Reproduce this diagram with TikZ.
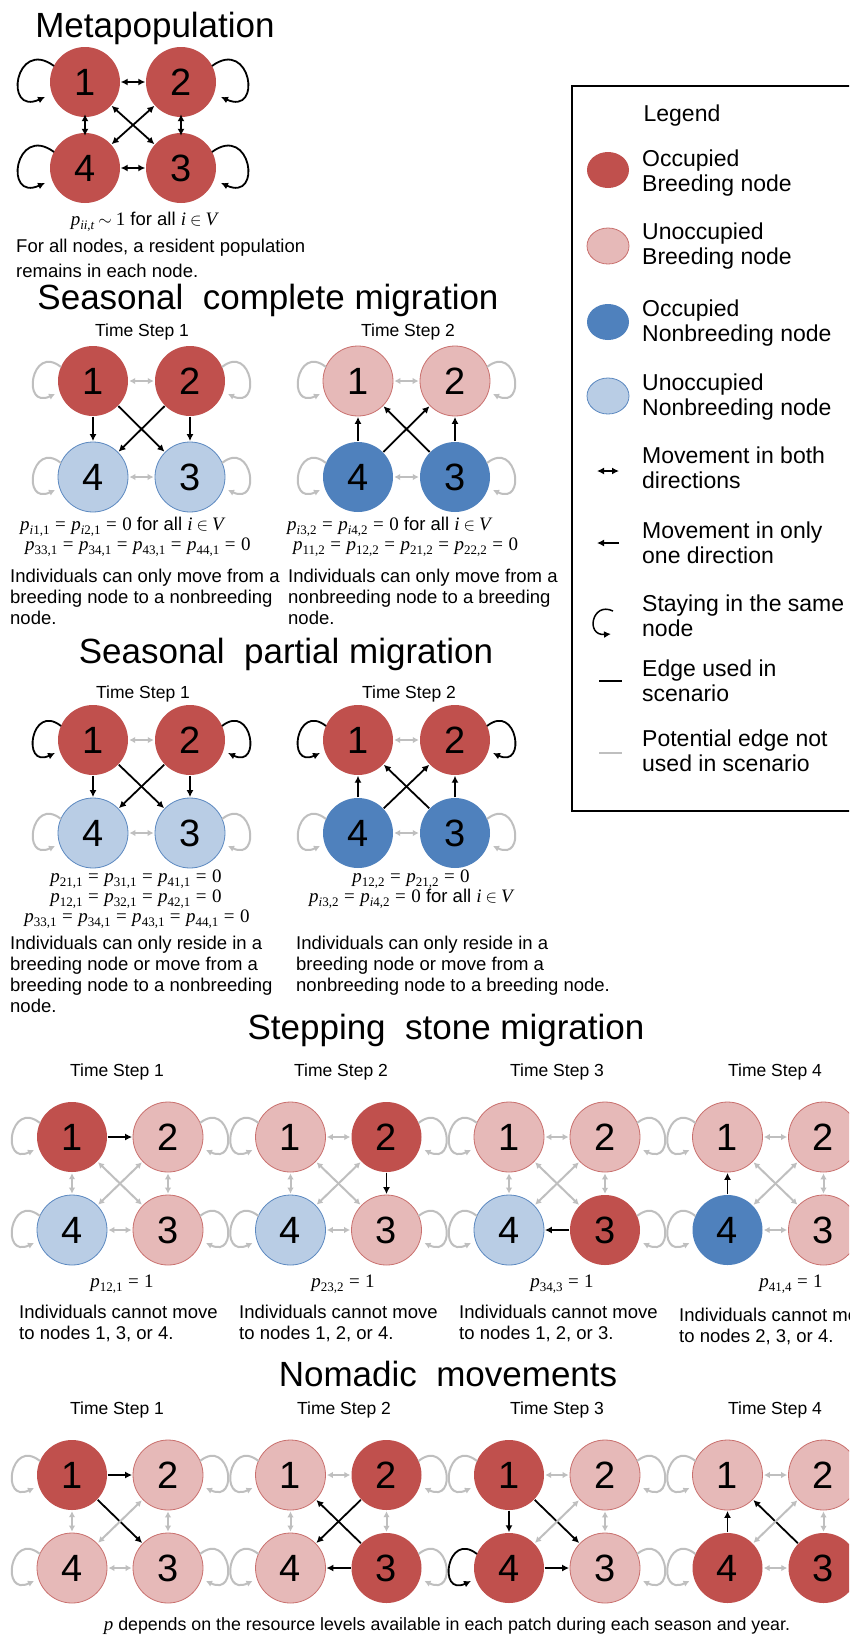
\documentclass[tikz,border=0pt]{standalone}
\usepackage{fontspec}
\setmainfont{Liberation Sans}
\newfontfamily\msf{Liberation Serif}
\usetikzlibrary{arrows.meta,calc,shapes.geometric}
\definecolor{obr}{HTML}{C0504D}
\definecolor{ubr}{HTML}{E6B9B8}
\definecolor{ubrd}{HTML}{C9706E}
\definecolor{onb}{HTML}{4F81BD}
\definecolor{unb}{HTML}{B9CDE5}
\definecolor{unbd}{HTML}{5B88C0}
\definecolor{egrey}{HTML}{BFBFBF}
\newcommand\ftitle{\fontsize{35}{40}\selectfont}
\newcommand\ftsl{\fontsize{17.5}{20}\selectfont}
\newcommand\fbody{\fontsize{18.5}{21.5}\selectfont}
\newcommand\flgd{\fontsize{23}{25}\selectfont}
\newcommand\fdig{\fontsize{38}{38}\selectfont}
% serif "math-like" text, in the style of the reference's Cambria Math
\newcommand\mt[1]{{\fontsize{19}{21}\selectfont\msf #1}}
\newcommand\iv[1]{{\itshape #1}}
\newcommand\pv[1]{{\itshape p}\raisebox{-4pt}{\fontsize{13}{13}\selectfont #1}}
\newcommand\meq{\hspace{5.5pt}=\hspace{5.5pt}}
\newcommand\inV{\mt{\iv{i}}\hspace{4pt}$\in$\hspace{4pt}\mt{\iv{V}}}
\tikzset{
  nd/.style={circle,minimum size=70pt,inner sep=0pt,font=\fdig},
  ob/.style={nd,fill=obr},
  ub/.style={nd,fill=ubr,draw=ubrd,line width=0.8pt},
  on/.style={nd,fill=onb},
  un/.style={nd,fill=unb,draw=unbd,line width=0.8pt},
  bone/.style={draw=black,line width=1.8pt,->,>={Latex[length=7pt,width=7pt]},shorten >=0.5pt,shorten <=0.5pt},
  btwo/.style={bone,<->},
  gtwo/.style={draw=egrey,line width=2pt,<->,>={Latex[length=6pt,width=6.5pt]},shorten >=1pt,shorten <=1pt},
  bloop/.style={draw=black,line width=1.8pt,->,>={Latex[length=7pt,width=7pt]}},
  gloop/.style={draw=egrey,line width=2pt,->,>={Latex[length=6pt,width=6.5pt]}},
  ttl/.style={font=\ftitle,anchor=base,inner sep=0pt},
  tsl/.style={font=\ftsl,anchor=base,inner sep=0pt},
  bw/.style={font=\fbody,anchor=base west,inner sep=0pt},
  bc/.style={font=\fbody,anchor=base,inner sep=0pt},
  lt/.style={font=\flgd,anchor=base west,inner sep=0pt,align=left},
  lel/.style={ellipse,minimum width=42pt,minimum height=36pt,inner sep=0pt},
}
\newcommand\fournodes[9]{%
  \node[#6] (#1-1) at (#2,#4) {1};
  \node[#7] (#1-2) at (#3,#4) {2};
  \node[#8] (#1-3) at (#3,#5) {3};
  \node[#9] (#1-4) at (#2,#5) {4};}
\newcommand\lloop[2]{\draw[#2] ($(#1)+(-32,-14)$) .. controls ($(#1)+(-62,-38)$) and ($(#1)+(-72,29)$) .. ($(#1)+(-38,13)$);}
\newcommand\rloop[2]{\draw[#2] ($(#1)+(32,-14)$) .. controls ($(#1)+(62,-38)$) and ($(#1)+(72,29)$) .. ($(#1)+(38,13)$);}
\newcommand\lloopb[2]{\draw[#2] ($(#1)+(-31,-16)$) .. controls ($(#1)+(-70,-45)$) and ($(#1)+(-82,34)$) .. ($(#1)+(-40,15)$);}
\newcommand\rloopb[2]{\draw[#2] ($(#1)+(31,-16)$) .. controls ($(#1)+(70,-45)$) and ($(#1)+(82,34)$) .. ($(#1)+(40,15)$);}
\newcommand\allloops[5]{\lloop{#1-1}{#2}\rloop{#1-2}{#3}\rloop{#1-3}{#4}\lloop{#1-4}{#5}}
\begin{document}
\begin{tikzpicture}[x=1pt,y=-1pt]
\useasboundingbox (0,0) rectangle (849,1636);
\clip (0,0) rectangle (849,1636);
\fill[white] (0,0) rectangle (849,1636);

% ---------------- Metapopulation
\node[ttl] (t-meta) at (155,37) {Metapopulation};
\fournodes{m}{85}{181}{82}{168}{ob}{ob}{ob}{ob}
\draw[btwo] (m-1) -- (m-2);
\draw[btwo] (m-4) -- (m-3);
\draw[btwo,shorten <=-3pt,shorten >=-3pt] (m-1) -- (m-4);
\draw[btwo,shorten <=-3pt,shorten >=-3pt] (m-2) -- (m-3);
\draw[btwo] (m-1) -- (m-3);
\draw[btwo] (m-2) -- (m-4);
\lloopb{m-1}{bloop}\rloopb{m-2}{bloop}\rloopb{m-3}{bloop}\lloopb{m-4}{bloop}
\node[bc] (m-p) at (144,225) {\mt{\pv{\iv{ii},\iv{t}}}\hspace{4pt}$\sim$\hspace{4pt}\mt{1} for all \inV};
\node[bw] (m-d1) at (16,252) {For all nodes, a resident population};
\node[bw] (m-d2) at (16,277) {remains in each node.};

% ---------------- Seasonal complete migration
\node[ttl] (t-comp) at (268,309) {Seasonal\ \ complete migration};
\node[tsl] (c1-ts) at (142,336) {Time Step 1};
\node[tsl] (c2-ts) at (408,336) {Time Step 2};
\fournodes{c1}{93}{190}{381}{477}{ob}{ob}{un}{un}
\fournodes{c2}{358}{455}{381}{477}{ub}{ub}{on}{on}
\draw[gtwo] (c1-1) -- (c1-2);
\draw[gtwo] (c1-4) -- (c1-3);
\draw[bone] (c1-1) -- (c1-4);
\draw[bone] (c1-2) -- (c1-3);
\draw[bone] (c1-1) -- (c1-3);
\draw[bone] (c1-2) -- (c1-4);
\allloops{c1}{gloop}{gloop}{gloop}{gloop}
\draw[gtwo] (c2-1) -- (c2-2);
\draw[gtwo] (c2-4) -- (c2-3);
\draw[bone] (c2-4) -- (c2-1);
\draw[bone] (c2-3) -- (c2-2);
\draw[bone] (c2-4) -- (c2-2);
\draw[bone] (c2-3) -- (c2-1);
\allloops{c2}{gloop}{gloop}{gloop}{gloop}
\node[bw] (c1-pa) at (20,530) {\mt{\pv{\iv{i}1,1}\meq\pv{\iv{i}2,1}\meq 0} for all \inV};
\node[bw] (c1-pb) at (25,550) {\mt{\pv{33,1}\meq\pv{34,1}\meq\pv{43,1}\meq\pv{44,1}\meq 0}};
\node[bw] (c1-da) at (10,582) {Individuals can only move from a};
\node[bw] (c1-db) at (10,603) {breeding node to a nonbreeding};
\node[bw] (c1-dc) at (10,624) {node.};
\node[bw] (c2-pa) at (287,530) {\mt{\pv{\iv{i}3,2}\meq\pv{\iv{i}4,2}\meq 0} for all \inV};
\node[bw] (c2-pb) at (293,550) {\mt{\pv{11,2}\meq\pv{12,2}\meq\pv{21,2}\meq\pv{22,2}\meq 0}};
\node[bw] (c2-da) at (288,582) {Individuals can only move from a};
\node[bw] (c2-db) at (288,603) {nonbreeding node to a breeding};
\node[bw] (c2-dc) at (288,624) {node.};

% ---------------- Seasonal partial migration
\node[ttl] (t-part) at (286,663) {Seasonal\ \ partial migration};
\node[tsl] (p1-ts) at (143,698) {Time Step 1};
\node[tsl] (p2-ts) at (409,698) {Time Step 2};
\fournodes{p1}{93}{190}{740}{833}{ob}{ob}{un}{un}
\fournodes{p2}{358}{455}{740}{833}{ob}{ob}{on}{on}
\draw[gtwo] (p1-1) -- (p1-2);
\draw[gtwo] (p1-4) -- (p1-3);
\draw[bone] (p1-1) -- (p1-4);
\draw[bone] (p1-2) -- (p1-3);
\draw[bone] (p1-1) -- (p1-3);
\draw[bone] (p1-2) -- (p1-4);
\allloops{p1}{bloop}{bloop}{gloop}{gloop}
\draw[gtwo] (p2-1) -- (p2-2);
\draw[gtwo] (p2-4) -- (p2-3);
\draw[bone] (p2-4) -- (p2-1);
\draw[bone] (p2-3) -- (p2-2);
\draw[bone] (p2-4) -- (p2-2);
\draw[bone] (p2-3) -- (p2-1);
\allloops{p2}{bloop}{bloop}{gloop}{gloop}
\node[bc] (p1-pa) at (136,882) {\mt{\pv{21,1}\meq\pv{31,1}\meq\pv{41,1}\meq 0}};
\node[bc] (p1-pb) at (136,902) {\mt{\pv{12,1}\meq\pv{32,1}\meq\pv{42,1}\meq 0}};
\node[bc] (p1-pc) at (137,922) {\mt{\pv{33,1}\meq\pv{34,1}\meq\pv{43,1}\meq\pv{44,1}\meq 0}};
\node[bw] (p1-da) at (10,949) {Individuals can only reside in a};
\node[bw] (p1-db) at (10,970) {breeding node or move from a};
\node[bw] (p1-dc) at (10,991) {breeding node to a nonbreeding};
\node[bw] (p1-dd) at (10,1012) {node.};
\node[bc] (p2-pa) at (411,882) {\mt{\pv{12,2}\meq\pv{21,2}\meq 0}};
\node[bc] (p2-pb) at (411,902) {\mt{\pv{\iv{i}3,2}\meq\pv{\iv{i}4,2}\meq 0} for all \inV};
\node[bw] (p2-da) at (296,949) {Individuals can only reside in a};
\node[bw] (p2-db) at (296,970) {breeding node or move from a};
\node[bw] (p2-dc) at (296,991) {nonbreeding node to a breeding node.};

% ---------------- Stepping stone migration
\node[ttl] (t-step) at (446,1039) {Stepping\ \ stone migration};
\node[tsl] (s1-ts) at (117,1076) {Time Step 1};
\node[tsl] (s2-ts) at (341,1076) {Time Step 2};
\node[tsl] (s3-ts) at (557,1076) {Time Step 3};
\node[tsl] (s4-ts) at (775,1076) {Time Step 4};
\fournodes{s1}{72}{168}{1137}{1230}{ob}{ub}{ub}{un}
\fournodes{s2}{290.5}{386.5}{1137}{1230}{ub}{ob}{ub}{un}
\fournodes{s3}{509}{605}{1137}{1230}{ub}{ub}{ob}{un}
\fournodes{s4}{727.5}{823.5}{1137}{1230}{ub}{ub}{ub}{on}
\draw[bone] (s1-1) -- (s1-2);
\draw[gtwo] (s1-4) -- (s1-3);
\draw[gtwo] (s1-1) -- (s1-4);
\draw[gtwo] (s1-2) -- (s1-3);
\draw[gtwo] (s1-1) -- (s1-3);
\draw[gtwo] (s1-2) -- (s1-4);
\draw[gtwo] (s2-1) -- (s2-2);
\draw[gtwo] (s2-4) -- (s2-3);
\draw[gtwo] (s2-1) -- (s2-4);
\draw[bone] (s2-2) -- (s2-3);
\draw[gtwo] (s2-1) -- (s2-3);
\draw[gtwo] (s2-2) -- (s2-4);
\draw[gtwo] (s3-1) -- (s3-2);
\draw[bone] (s3-3) -- (s3-4);
\draw[gtwo] (s3-1) -- (s3-4);
\draw[gtwo] (s3-2) -- (s3-3);
\draw[gtwo] (s3-1) -- (s3-3);
\draw[gtwo] (s3-2) -- (s3-4);
\draw[gtwo] (s4-1) -- (s4-2);
\draw[gtwo] (s4-4) -- (s4-3);
\draw[bone] (s4-4) -- (s4-1);
\draw[gtwo] (s4-2) -- (s4-3);
\draw[gtwo] (s4-1) -- (s4-3);
\draw[gtwo] (s4-2) -- (s4-4);
\allloops{s1}{gloop}{gloop}{gloop}{gloop}
\allloops{s2}{gloop}{gloop}{gloop}{gloop}
\allloops{s3}{gloop}{gloop}{gloop}{gloop}
\allloops{s4}{gloop}{gloop}{gloop}{gloop}
\node[bc] (s1-p) at (122,1287) {\mt{\pv{12,1}\meq 1}};
\node[bc] (s2-p) at (343,1287) {\mt{\pv{23,2}\meq 1}};
\node[bc] (s3-p) at (562,1287) {\mt{\pv{34,3}\meq 1}};
\node[bc] (s4-p) at (791,1287) {\mt{\pv{41,4}\meq 1}};
\node[bw] (s1-da) at (19,1318) {Individuals cannot move};
\node[bw] (s1-db) at (19,1339) {to nodes 1, 3, or 4.};
\node[bw] (s2-da) at (239,1318) {Individuals cannot move};
\node[bw] (s2-db) at (239,1339) {to nodes 1, 2, or 4.};
\node[bw] (s3-da) at (459,1318) {Individuals cannot move};
\node[bw] (s3-db) at (459,1339) {to nodes 1, 2, or 3.};
\node[bw] (s4-da) at (679,1321) {Individuals cannot move};
\node[bw] (s4-db) at (679,1342) {to nodes 2, 3, or 4.};

% ---------------- Nomadic movements
\node[ttl] (t-nom) at (448,1386) {Nomadic\ \ movements};
\node[tsl] (n1-ts) at (117,1414) {Time Step 1};
\node[tsl] (n2-ts) at (344,1414) {Time Step 2};
\node[tsl] (n3-ts) at (557,1414) {Time Step 3};
\node[tsl] (n4-ts) at (775,1414) {Time Step 4};
\fournodes{n1}{72}{168}{1475}{1568}{ob}{ub}{ub}{ub}
\fournodes{n2}{290.5}{386.5}{1475}{1568}{ub}{ob}{ob}{ub}
\fournodes{n3}{509}{605}{1475}{1568}{ob}{ub}{ub}{ob}
\fournodes{n4}{727.5}{823.5}{1475}{1568}{ub}{ub}{ob}{ob}
\draw[bone] (n1-1) -- (n1-2);
\draw[bone] (n1-1) -- (n1-3);
\draw[gtwo] (n1-4) -- (n1-3);
\draw[gtwo] (n1-1) -- (n1-4);
\draw[gtwo] (n1-2) -- (n1-3);
\draw[gtwo] (n1-2) -- (n1-4);
\draw[bone] (n2-2) -- (n2-4);
\draw[bone] (n2-3) -- (n2-1);
\draw[bone] (n2-3) -- (n2-4);
\draw[gtwo] (n2-1) -- (n2-2);
\draw[gtwo] (n2-1) -- (n2-4);
\draw[gtwo] (n2-2) -- (n2-3);
\draw[bone] (n3-1) -- (n3-4);
\draw[bone] (n3-1) -- (n3-3);
\draw[bone] (n3-4) -- (n3-3);
\draw[gtwo] (n3-1) -- (n3-2);
\draw[gtwo] (n3-2) -- (n3-3);
\draw[gtwo] (n3-2) -- (n3-4);
\draw[bone] (n4-4) -- (n4-1);
\draw[bone] (n4-3) -- (n4-1);
\draw[gtwo] (n4-1) -- (n4-2);
\draw[gtwo] (n4-4) -- (n4-3);
\draw[gtwo] (n4-2) -- (n4-3);
\draw[gtwo] (n4-2) -- (n4-4);
\allloops{n1}{gloop}{gloop}{gloop}{gloop}
\allloops{n2}{gloop}{gloop}{gloop}{gloop}
\allloops{n3}{gloop}{gloop}{gloop}{bloop}
\allloops{n4}{gloop}{gloop}{gloop}{gloop}
\node[bc,font=\fontsize{17.8}{20}\selectfont] (n-note) at (447,1630) {\mt{\iv{p}} depends on the resource levels available in each patch during each season and year.};

% ---------------- Legend
\draw[line width=1.5pt] (572,86) rectangle (853,811);
\node[font=\flgd,anchor=base,inner sep=0pt] (lg-t) at (682,121) {Legend};
\node[lel,fill=obr] (lg-1) at (608,170) {};
\node[lt] (lg-1t) at (642,191.5) {Occupied\\Breeding node};
\node[lel,fill=ubr,draw=ubrd,line width=0.8pt] (lg-2) at (608,246) {};
\node[lt] (lg-2t) at (642,264.5) {Unoccupied\\Breeding node};
\node[lel,fill=onb] (lg-3) at (608,322) {};
\node[lt] (lg-3t) at (642,341.7) {Occupied\\Nonbreeding node};
\node[lel,fill=unb,draw=unbd,line width=0.8pt] (lg-4) at (608,396) {};
\node[lt] (lg-4t) at (642,415.8) {Unoccupied\\Nonbreeding node};
\coordinate (lg-ba) at (597,471);
\coordinate (lg-bb) at (619,471);
\draw[btwo,line width=1.5pt,shorten >=0pt,shorten <=0pt] (lg-ba) -- (lg-bb);
\node[lt] (lg-5t) at (642,488.8) {Movement in both\\directions};
\coordinate (lg-oa) at (619,543);
\coordinate (lg-ob) at (597,543);
\draw[bone,line width=1.5pt,shorten >=0pt,shorten <=0pt] (lg-oa) -- (lg-ob);
\node[lt] (lg-6t) at (642,563) {Movement in only\\one direction};
\coordinate (lg-la) at (613,611);
\coordinate (lg-lb) at (611,634);
\draw[bloop,line width=1.5pt] (lg-la) .. controls (592,601) and (585,636) .. (lg-lb);
\node[lt] (lg-7t) at (642,636) {Staying in the same\\node};
\coordinate (lg-ea) at (599,681);
\coordinate (lg-eb) at (622,681);
\draw[line width=2pt] (lg-ea) -- (lg-eb);
\node[lt] (lg-8t) at (642,701.6) {Edge used in\\scenario};
\coordinate (lg-ga) at (599,753);
\coordinate (lg-gb) at (622,753);
\draw[line width=2pt,draw=egrey] (lg-ga) -- (lg-gb);
\node[lt] (lg-9t) at (642,771.4) {Potential edge not\\used in scenario};
\end{tikzpicture}
\end{document}
